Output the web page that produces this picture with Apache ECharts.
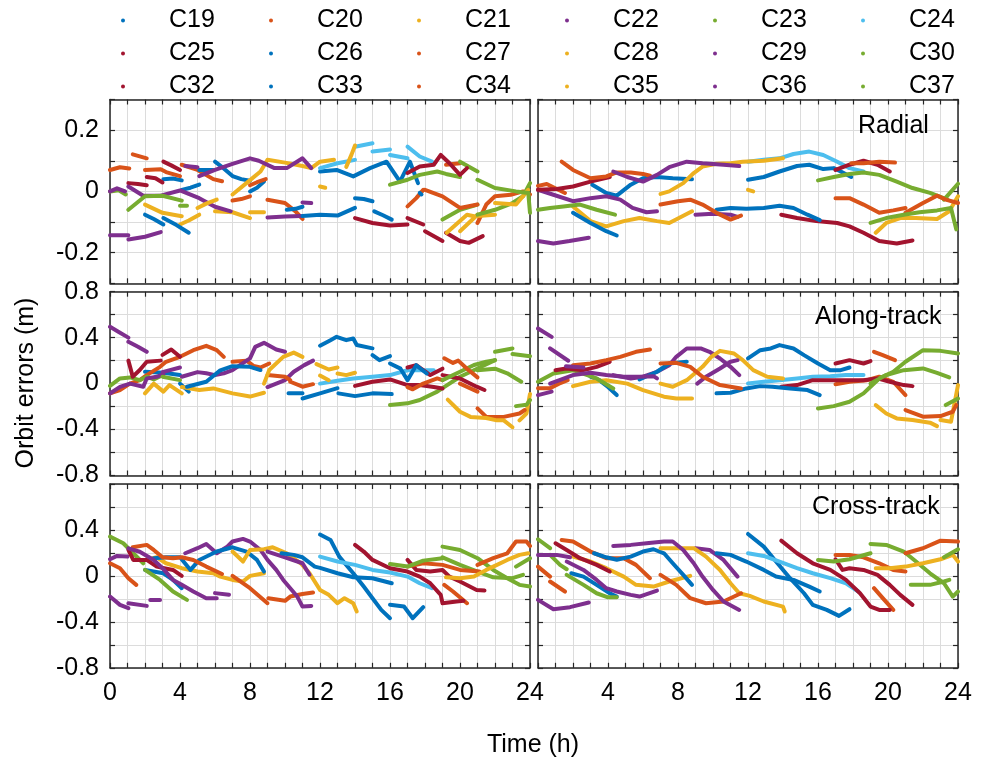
<!DOCTYPE html>
<html lang="en">
<head>
    <meta charset="UTF-8">
    <title>Orbit errors</title>
    <script src="https://cdn.jsdelivr.net/npm/echarts@6/dist/echarts.min.js"></script>
    <style>
        body { margin: 0; background: #fff; }
    </style>
</head>
<body>
    <div id="chart" style="width: 987px; height: 762px;"></div>
    <script>
    // satellites and their colours (order of the legend)
    var sats = ['C19','C20','C21','C22','C23','C24','C25','C26','C27','C28','C29','C30','C32','C33','C34','C35','C36','C37'];
    var satColors = ['#0072BD','#D95319','#EDB120','#7E2F8E','#77AC30','#4DBEEE','#A2142F',
                     '#0072BD','#D95319','#EDB120','#7E2F8E','#77AC30','#A2142F',
                     '#0072BD','#D95319','#EDB120','#7E2F8E','#77AC30'];
    var panelNames = ['Radial', 'Along-track', 'Cross-track'];
    var xTicks = [0, 4, 8, 12, 16, 20, 24];

    // arcs: [satellite, [[hour, error m], ...]]
    var radialL = [
        ['C19', [[3.05,.04],[3.6,.042],[4.1,.036]]],
        ['C19', [[4.1,.005],[4.6,.012],[5.1,.022]]],
        ['C26', [[2,-.076],[2.5,-.09],[3.05,-.108]]],
        ['C33', [[3.05,-.087],[3.8,-.11],[4.5,-.135]]],
        ['C26', [[5.1,.07],[5.9,.07]]],
        ['C33', [[6,.097],[6.5,.075],[7,.05],[7.5,.04],[8,.035]]],
        ['C19', [[8,0],[8.4,.012],[8.8,.032]]],
        ['C26', [[10.1,-.06],[10.6,-.057],[11,-.05]]],
        ['C33', [[11,-.08],[12,-.076],[13,-.079],[14,-.054]]],
        ['C19', [[12,.065],[12.95,.07],[13.9,.049],[14.86,.076],[15.8,.097],[16.57,.032],[17.14,.097],[17.6,.027]]],
        ['C26', [[14,-.022],[14.5,-.025],[15,-.032]]],
        ['C26', [[15.1,-.065],[15.6,-.078],[16.1,-.092]]],
        ['C33', [[17.7,-.005],[17.8,-.01]]],
        ['C20', [[0,.07],[.57,.079],[1.1,.075]]],
        ['C27', [[1.3,.121],[2.1,.108]]],
        ['C34', [[2,.07],[2.9,.072],[3.2,.063],[4,.05]]],
        ['C20', [[4.1,.087],[5,.07],[5.9,.04],[6.4,.033]]],
        ['C27', [[7,-.03],[7.5,-.025],[8,-.016]]],
        ['C34', [[8,.02],[8.4,.03],[8.9,.04]]],
        ['C20', [[9,-.027],[10,-.038],[10.6,-.065],[11,-.09]]],
        ['C27', [[17,-.049],[17.5,-.022],[17.9,.005]]],
        ['C34', [[18,.005],[19,-.016],[20,-.054],[21,-.043]]],
        ['C20', [[21,-.103],[21.5,-.043],[22,-.016],[22.9,-.011],[23.6,0],[24,-.01]]],
        ['C27', [[19.2,.087],[20,.092]]],
        ['C25', [[1.05,.027],[1.6,.024],[2.1,.02]]],
        ['C32', [[2.1,.047],[2.6,.043],[3,.029]]],
        ['C25', [[3.05,.097],[3.5,.085],[4,.07]]],
        ['C32', [[14,-.087],[15,-.103],[16,-.111],[17,-.108]]],
        ['C25', [[17,-.087],[17.9,-.108]]],
        ['C32', [[18,-.13],[19,-.162]]],
        ['C25', [[19.2,-.135],[20,-.162],[20.5,-.168],[21.3,-.146]]],
        ['C32', [[17,.06],[17.7,.081],[18.5,.087],[18.9,.119],[19.4,.092],[20,.054],[20.4,.076]]],
        ['C24', [[12,.076],[13,.092],[14,.103]]],
        ['C24', [[14,.146],[15,.157]]],
        ['C24', [[15,.13],[16,.137]]],
        ['C24', [[16,.119],[17,.108]]],
        ['C24', [[17,.146],[17.7,.114],[18.4,.097]]],
        ['C21', [[2,-.043],[3,-.07],[4.1,-.081]]],
        ['C28', [[4,-.108],[4.5,-.095],[5.1,-.076]]],
        ['C35', [[5,-.054],[5.5,-.04],[6.1,-.027]]],
        ['C21', [[6,-.065],[7,-.068],[8,-.087]]],
        ['C28', [[8,-.068],[8.8,-.068]]],
        ['C35', [[7,-.01],[7.9,.032],[8.6,.065],[9,.103],[10,.094],[11,.083],[11.5,.076],[12,.097],[12.8,.103]]],
        ['C21', [[12,.016],[12.3,.012]]],
        ['C28', [[13.5,.08],[13.8,.12],[14,.15]]],
        ['C35', [[19.24,-.135],[20.4,-.076],[20.8,-.081]]],
        ['C21', [[20,-.13],[21,-.076]]],
        ['C28', [[21,-.08],[22,-.076]]],
        ['C35', [[22,-.038],[23.2,-.043],[23.9,.005]]],
        ['C22', [[0,-.143],[1.05,-.143]]],
        ['C22', [[1.05,-.157],[2,-.148],[2.9,-.133]]],
        ['C29', [[0,0],[.4,.01],[.86,0]]],
        ['C29', [[1.05,.016],[1.9,-.014],[2.9,-.014],[4,.003],[5.1,-.022],[6,-.05],[6.9,-.065]]],
        ['C36', [[4.3,.083],[5,.079]]],
        ['C36', [[5.1,.05],[6,.07],[7,.09],[8,.108],[8.5,.1],[9.4,.076],[10.1,.076],[11,.108],[11.5,.076]]],
        ['C22', [[9,-.085],[10,-.082],[10.9,-.08]]],
        ['C29', [[11,-.036],[11.5,-.038]]],
        ['C23', [[0,0],[.5,.004],[.9,-.01]]],
        ['C30', [[1.05,-.06],[2,-.016],[3,-.014],[4.1,-.03]]],
        ['C37', [[4,-.047],[4.4,-.047]]],
        ['C23', [[16,.022],[17,.038],[17.7,.054],[18.7,.065],[19.2,.057],[20,.047]]],
        ['C30', [[20,.097],[21,.065]]],
        ['C37', [[21,.038],[22,.011],[23.2,0],[23.9,-.005]]],
        ['C23', [[19,-.092],[20,-.06],[21,-.043]]],
        ['C30', [[21,-.076],[22,-.06],[23,-.038],[23.6,-.016],[24,.027]]],
        ['C37', [[23.9,-.005],[24,-.07]]]
    ];

    var radialR = [
        ['C20', [[0,.018],[.5,.024],[1.54,-.005]]],
        ['C27', [[1.35,.097],[2,.07],[3,.043],[3.9,.049],[4.5,.062],[5.3,.062],[6,.057],[6.4,.051]]],
        ['C34', [[7,-.043],[8,-.032],[8.7,-.027],[9.4,-.043],[10.2,-.07],[11,-.092],[11.6,-.079]]],
        ['C20', [[17,-.022],[17.8,-.022],[18.6,-.043],[19.5,-.07],[20.3,-.062],[21,-.054]]],
        ['C27', [[17.9,.092],[18.6,.092],[19.5,.097],[20.4,.094]]],
        ['C34', [[21,-.07],[22,-.038],[22.8,-.014],[23.3,-.027],[24,-.038]]],
        ['C25', [[0,.005],[1.07,.008],[2,.016],[3,.032],[4.1,.047]]],
        ['C32', [[13.9,-.076],[14.8,-.087],[15.9,-.097],[17.1,-.103],[17.8,-.114],[18.6,-.135],[19.5,-.162],[20.5,-.17],[21.4,-.16]]],
        ['C25', [[17,.07],[17.8,.087],[18.6,.1],[19.4,.087],[20.1,.065]]],
        ['C19', [[3.1,.022],[3.9,-.005],[4.5,-.014],[5.3,.022],[6,.043],[6.8,.047],[7.7,.043],[8.8,.04]]],
        ['C26', [[2,-.07],[3,-.103],[3.9,-.13],[4.5,-.144]]],
        ['C33', [[10.2,-.06],[11,-.054],[11.9,-.057],[12.9,-.054],[13.8,-.047],[14.6,-.054],[15.4,-.076],[16.1,-.094]]],
        ['C19', [[12,.038],[12.9,.047],[13.8,.065],[14.8,.083],[15.5,.087],[16.3,.073],[16.9,.076],[17.3,.065],[17.9,.047]]],
        ['C24', [[12,.097],[12.9,.103],[13.8,.108],[14.6,.122],[15.5,.13],[16.3,.119],[17.1,.097],[17.8,.076],[18.6,.065]]],
        ['C21', [[2,-.049],[3,-.097],[3.9,-.114],[4.9,-.097],[5.8,-.087],[6.8,-.097],[7.5,-.103],[8.8,-.065]]],
        ['C28', [[7,-.008],[7.5,0],[8.3,.027],[8.9,.06],[9.4,.081],[10.2,.09],[11,.092],[11.7,.097],[12.9,.1],[14,.108]]],
        ['C35', [[12,.005],[12.3,0]]],
        ['C21', [[19.3,-.135],[19.9,-.103],[20.7,-.087],[21.6,-.087],[22.8,-.09],[23.5,-.065],[24,-.016]]],
        ['C22', [[0,.005],[.88,-.011],[2,-.032],[3,-.022],[3.9,-.016],[4.7,-.027],[5.4,-.054],[6.2,-.068],[6.8,-.065]]],
        ['C29', [[0,-.162],[.88,-.17],[1.8,-.162],[2.9,-.151]]],
        ['C36', [[4.3,.065],[5.1,.047],[6,.032],[6.8,.054],[7.5,.079],[8.5,.097],[9.4,.092],[10.6,.087],[11.5,.083]]],
        ['C22', [[9,-.076],[10,-.073],[11,-.076],[11.4,-.083]]],
        ['C23', [[0,-.06],[.69,-.054],[1.45,-.049],[2.4,-.043],[3.35,-.06],[4.4,-.076]]],
        ['C30', [[16,.036],[16.9,.047],[17.8,.057],[18.6,.062],[19.5,.054],[20.5,.032],[21.4,.011],[22.4,-.005],[23.4,-.027]]],
        ['C37', [[19,-.103],[19.9,-.087],[20.9,-.076],[21.8,-.068],[22.8,-.062],[23.6,-.054],[23.9,-.124]]],
        ['C23', [[23.2,-.027],[24,.025]]]
    ];

    var alongL = [
        ['C22', [[0,.494],[.5,.45],[1.05,.4]]],
        ['C22', [[1.05,.364],[1.6,.32],[2.1,.277]]],
        ['C29', [[0,-.086],[.57,-.028],[1.14,0],[1.9,-.028],[2.1,.045],[2.67,.059],[3.05,.082]]],
        ['C36', [[3,.1],[4,.14]]],
        ['C29', [[4.1,.06],[5,.1],[5.5,.09],[6,.074],[6.5,.09],[7,.118],[8,.219],[8.3,.32],[8.8,.355],[9.5,.297],[10,.277]]],
        ['C22', [[9,-.03],[10,.03],[10.5,.103],[11.1,.161],[11.6,.2]]],
        ['C25', [[1.05,.2],[1.3,.06],[1.7,.118],[2.1,.19],[2.9,.2]]],
        ['C32', [[3,.25],[3.5,.297],[4,.233]]],
        ['C20', [[0,-.085],[.57,-.056],[1.14,0],[1.7,.03],[2.1,.074],[2.86,.146],[3.2,.19],[4,.233],[4.76,.291],[5.5,.329],[6.1,.291],[6.5,.233]]],
        ['C27', [[7,.19],[7.8,.2],[8.2,.154],[8.6,.14],[9.1,.175]]],
        ['C34', [[9,.074],[10,.06],[10.3,.03]]],
        ['C20', [[10.3,.016],[11,-.027],[11.6,-.005]]],
        ['C19', [[2,.103],[3.05,.094],[4,.074]]],
        ['C26', [[4,0],[4.5,-.07]]],
        ['C33', [[4.4,-.027],[5.5,.016],[6.3,.116],[7,.152],[8,.146],[8.6,.118]]],
        ['C19', [[10.2,-.085],[11,-.085]]],
        ['C26', [[11,-.13],[12,-.085],[13,-.04]]],
        ['C33', [[13.05,-.085],[14,-.109],[15,-.085],[16.1,-.091]]],
        ['C19', [[12,.33],[12.6,.378],[12.95,.407],[13.5,.378],[13.9,.393],[14.1,.336],[15,.307]]],
        ['C19', [[15,.248],[15.4,.204],[16,.239]]],
        ['C33', [[16,.175],[16.6,.13],[17,.03],[17.5,.16],[18.1,.088]]],
        ['C24', [[12,0],[13,.025],[13.9,.045],[15,.06],[16,.074],[17,.116],[18.5,.116]]],
        ['C21', [[2,-.085],[2.5,0],[3.05,-.07],[3.4,-.013],[4.1,-.085]]],
        ['C28', [[4.1,-.03],[5.1,-.056],[5.9,-.042],[7,-.085],[8,-.113],[8.8,-.08]]],
        ['C35', [[8.8,0],[9.1,.118],[9.9,.233],[10.5,.27],[11,.233]]],
        ['C21', [[11.8,.17],[12.5,.123],[13,.14]]],
        ['C28', [[13,.088],[13.5,.074],[14,.094]]],
        ['C28', [[12,.07],[12.5,.03]]],
        ['C35', [[19.3,-.14],[20,-.245],[20.6,-.29],[21.5,-.3],[22.1,-.32],[22.5,-.32],[23,-.38]]],
        ['C21', [[23.4,-.32],[23.8,-.26],[24,-.09]]],
        ['C25', [[14,-.02],[15,.016],[16,.036],[17,-.013],[17.7,-.013],[18.5,-.03],[19,-.043]]],
        ['C32', [[17,.14],[17.5,.16],[18.3,.074],[19,.13]]],
        ['C25', [[19,.074],[20,.045],[20.95,-.027],[21.4,-.056]]],
        ['C27', [[17,-.03],[17.3,-.05],[17.9,0],[18.7,.045],[19,.03]]],
        ['C34', [[19.1,.22],[19.6,.18],[19.9,.2],[20.4,.13],[21,.054]]],
        ['C20', [[20,0],[21,-.07]]],
        ['C27', [[21,-.216],[21.5,-.29],[22.5,-.29],[23.4,-.26],[23.7,-.23]]],
        ['C23', [[0,-.02],[.57,.045],[1.14,.054],[1.7,.03],[2.1,.06],[2.5,.036],[3,.074]]],
        ['C30', [[3,.06],[4,.03]]],
        ['C23', [[16,-.187],[17,-.172],[17.7,-.143],[18.7,-.07],[19.2,-.02],[20,.06],[21,.132],[22,.204]]],
        ['C30', [[19,.03],[20,.103],[20.8,.162],[21.5,.19],[22,.204]]],
        ['C37', [[21,.117],[22,.13],[22.7,.09],[23.5,.016]]],
        ['C30', [[22,.277],[23,.306]]],
        ['C37', [[23,.257],[24,.239]]],
        ['C23', [[23.2,-.196],[23.8,-.185],[24,-.143]]]
    ];

    var alongR = [
        ['C22', [[0,.48],[.78,.407]]],
        ['C22', [[.69,.306],[1.73,.199]]],
        ['C29', [[0,-.1],[.78,-.07]]],
        ['C36', [[.69,0],[2,.074],[3,.094],[3.9,.074],[4.9,.06],[5.8,.06],[6.6,.065],[6.8,.045]]],
        ['C29', [[1.6,.152],[2.6,.14]]],
        ['C22', [[4.3,.074],[5.3,.045],[6,.06],[6.8,.103],[7.5,.16],[7.9,.233],[8.5,.306],[9.3,.306],[9.8,.277],[10.4,.219],[11,.146],[11.5,.074]]],
        ['C29', [[9.1,0],[9.6,.06],[10.4,.132],[11,.19],[11.4,.204]]],
        ['C25', [[1,.117],[1.6,.132],[2.6,.117],[3.35,.146],[4.1,.19]]],
        ['C32', [[13.9,-.028],[14.8,-.013],[15.7,.03],[16.7,.03],[17.6,.03],[18.6,.03],[19.4,.045],[20.1,.016],[20.9,-.013],[21.4,-.022]]],
        ['C25', [[17,.175],[17.8,.204],[18.6,.175],[19,.196]]],
        ['C20', [[0,-.04],[.69,-.04],[1.2,0],[1.7,.03]]],
        ['C27', [[2,.16],[3,.175],[3.9,.204],[4.7,.233],[5.6,.277],[6.4,.297]]],
        ['C34', [[7,.175],[7.9,.181],[8.7,.146],[9.4,.06],[10.4,-.013],[11.6,-.042]]],
        ['C20', [[17,-.005],[17.8,.016],[18.8,.03],[19.5,.06],[20.3,.016],[21,-.1]]],
        ['C27', [[19.2,.277],[19.7,.248],[20.4,.204]]],
        ['C34', [[21,-.23],[22,-.288],[23,-.283],[23.7,-.245],[23.9,-.187]]],
        ['C19', [[3,.06],[3.5,.03],[4,-.03],[4.5,-.1]]],
        ['C26', [[5.8,.036],[6.8,.103],[7.5,.175],[8.5,.19]]],
        ['C33', [[10.2,-.085],[11,-.08],[11.9,-.042],[12.7,-.022],[13.4,-.028],[14.4,-.042],[15.4,-.056],[16.1,-.1]]],
        ['C19', [[12,.219],[12.7,.291],[13.3,.306],[13.8,.335],[14.6,.306],[15.2,.248],[16,.175],[16.7,.117],[17.3,.117],[17.8,.14]]],
        ['C24', [[12,0],[12.9,.016],[13.8,.03],[14.8,.045],[15.7,.06],[16.7,.065],[17.6,.074],[18.6,.074]]],
        ['C21', [[2,-.022],[3,.016],[3.9,.03],[5.1,0],[6,-.056],[7.2,-.114],[7.9,-.129],[8.8,-.129]]],
        ['C28', [[7,0],[7.7,-.027],[8.5,.03],[9.4,.146],[9.9,.233],[10.4,.285],[11.2,.262],[11.7,.204],[12.3,.117],[13.1,.06],[14,.045]]],
        ['C35', [[19.3,-.187],[19.9,-.26],[20.5,-.303],[21.4,-.317],[22.4,-.34],[22.8,-.37]]],
        ['C21', [[23,-.317],[23.6,-.332],[24,-.013]]],
        ['C23', [[0,.016],[.88,.088],[2,.117],[3.35,.045],[4.3,-.042]]],
        ['C30', [[16,-.216],[16.9,-.196],[17.8,-.158],[18.6,-.085],[19,-.027],[19.5,.045],[20.3,.103],[21,.19],[22,.291],[23,.285],[24,.262]]],
        ['C37', [[19,0],[19.9,.074],[20.9,.117],[22,.132],[22.8,.094],[23.5,.054]]],
        ['C23', [[23.3,-.187],[24,-.13]]]
    ];

    var crossL = [
        ['C23', [[0,.342],[.76,.284],[1.33,.197],[1.9,.11]]],
        ['C30', [[2,.052],[2.86,-.035],[3.6,-.136],[4.4,-.209]]],
        ['C20', [[0,.11],[.57,.067],[1.05,-.02],[1.5,-.078]]],
        ['C27', [[1.3,.249],[2.1,.27],[2.5,.226],[3,.162],[3.6,.154],[4.1,.162],[4.76,.139],[5.5,.081],[6.4,.017]]],
        ['C34', [[7,0],[8,-.107],[9,-.238]]],
        ['C20', [[9.05,-.194],[10,-.217],[10.3,-.18],[11,-.157],[11.6,-.145]]],
        ['C22', [[0,.145],[.4,.174],[1,.168]]],
        ['C29', [[1.05,.24],[1.7,.21],[2.5,.139],[3,.067],[3.6,-.035],[4.1,-.078],[4.76,-.136],[5.5,-.194],[6.1,-.194]]],
        ['C36', [[0,-.18],[.57,-.252],[1.05,-.281]]],
        ['C36', [[1.05,-.238],[2.1,-.261]]],
        ['C36', [[2.3,-.209],[2.86,-.209]]],
        ['C22', [[6,-.15],[6.8,-.165]]],
        ['C22', [[4.3,.197],[5,.241],[5.5,.278],[6.1,.197],[6.7,.255],[7,.299],[7.6,.322],[8,.299],[8.6,.226],[9,.139],[9.5,.052],[9.9,-.035],[10.3,-.107],[10.7,-.18],[11,-.267],[11.5,-.261]]],
        ['C29', [[9,.212],[10,.162],[11,.11],[11.4,.01]]],
        ['C25', [[1.05,.226],[1.33,.139],[2.1,.139],[2.67,.081],[3.6,.052],[4.1,0]]],
        ['C19', [[2,.052],[3.05,.023],[3.6,-.035],[4.1,-.107]]],
        ['C26', [[2.5,.154],[3.2,.162],[4,.162],[4.6,.052],[5.1,.139],[6.1,.212],[7,.249],[7.8,.212],[8.4,.139],[8.8,.038]]],
        ['C33', [[9.8,.197],[10.5,.183],[11,.162],[11.7,.081],[12,.07],[13,.023],[13.9,-.012],[15,-.02],[16.1,-.064]]],
        ['C19', [[12,.36],[12.6,.313],[13.1,.168],[13.9,.023],[14.5,-.093],[15,-.194],[15.5,-.296],[16,-.368]]],
        ['C26', [[16,-.252],[16.8,-.267],[17.3,-.368],[17.9,-.272]]],
        ['C21', [[2,.139],[2.67,.162],[3.2,.11],[4.1,.067],[5,.038],[5.9,.023],[6.3,-.006],[7,-.035],[7.6,-.049],[8,0],[8.8,.023]]],
        ['C28', [[7,.212],[7.6,.125],[8,.226],[8.8,.232],[9.3,.249],[10.1,.197],[10.9,.11],[11.4,.023],[12,-.122],[12.5,-.165],[13,-.238],[13.4,-.194],[13.9,-.238],[14.1,-.31]]],
        ['C35', [[19.2,-.012],[20,-.02],[20.8,-.006],[21.5,.052],[21.9,.081],[22.7,.139],[23.4,.183],[23.9,.197]]],
        ['C24', [[12,.168],[13,.125],[14,.096],[15,.052],[16,.029],[17,-.006],[17.7,-.064],[18.4,-.107]]],
        ['C32', [[14,.27],[14.5,.212],[15,.139],[16,.067],[17,.038],[17.7,-.006],[18.3,-.064],[18.9,-.165],[19,-.238],[19.8,-.223],[20.2,-.217]]],
        ['C25', [[17,.139],[17.5,.052],[18.3,.038],[19,.052],[19.4,-.006],[20,-.049],[20.95,-.122],[21.4,-.128]]],
        ['C34', [[17,.081],[17.9,.11],[19,.096],[20,.052],[21.1,.038]]],
        ['C20', [[19.1,-.078],[19.6,-.136],[20.4,-.238]]],
        ['C27', [[21,.096],[21.9,.154],[22.7,.197],[23.2,.299],[23.8,.299],[24,.26]]],
        ['C37', [[16,.104],[17,.081],[17.9,.133],[19,.154]]],
        ['C23', [[19,.255],[20,.226],[21,.154],[21.9,.052],[22.7,-.02],[23.4,-.078],[24,-.093]]],
        ['C30', [[19,.162],[20,.096],[21,.038],[21.9,-.012],[23,-.02],[23.6,.009]]],
        ['C37', [[23.2,.081],[24,.154]]]
    ];

    var crossR = [
        ['C23', [[0,.319],[.69,.241]]],
        ['C23', [[.69,.183],[1.26,.096],[1.64,.058]]],
        ['C30', [[1.64,.009],[2.6,-.078],[3.35,-.151],[4,-.186],[4.5,-.186]]],
        ['C37', [[16,.139],[16.9,.125],[17.8,.145],[19,.197]]],
        ['C30', [[19,.278],[19.9,.27],[20.9,.212],[21.6,.125],[22.4,.023],[23.2,-.064],[23.7,-.18],[24,-.136]]],
        ['C23', [[21.3,-.078],[22.4,-.078],[23.2,-.049],[23.5,-.035]]],
        ['C37', [[23.2,.162],[24,.232]]],
        ['C22', [[0,-.209],[.88,-.29],[1.83,-.272],[2.9,-.232]]],
        ['C29', [[0,.183],[1.07,.183],[1.83,.162]]],
        ['C29', [[1.64,.125],[2.6,.052],[3.35,-.035],[3.9,-.107],[4.5,-.136],[5.3,-.165],[5.8,-.18],[6.8,-.128]]],
        ['C36', [[4.3,.261],[5.3,.27],[6.2,.284],[7.2,.299],[7.7,.299],[8.3,.226],[8.9,.11],[9.4,-.006],[10,-.122],[10.6,-.223],[11.5,-.296]]],
        ['C22', [[9,.241],[9.8,.226],[10.6,.139],[11.4,-.006]]],
        ['C25', [[1,.284],[1.64,.226],[2.4,.154],[3.35,.096],[4.1,.038]]],
        ['C32', [[13.9,.307],[14.8,.197],[15.7,.11],[16.7,.052],[17.6,-.035],[18.4,-.151],[19,-.267],[19.5,-.296],[20.1,-.296]]],
        ['C25', [[17,.145],[17.4,.052],[17.8,.067],[18.6,.052],[19.4,.009],[20.1,-.078],[20.7,-.165],[21.4,-.252]]],
        ['C20', [[1.35,.313],[2,.299],[3,.212],[3.9,.154],[4.9,.154],[5.6,.096],[6.4,-.02]]],
        ['C27', [[0,.081],[.69,-.006]]],
        ['C27', [[.69,-.049],[1.54,-.136]]],
        ['C34', [[7,.009],[7.9,-.078],[8.7,-.194],[9.6,-.238],[10.6,-.223],[11.6,-.151]]],
        ['C20', [[17,.183],[17.8,.183],[18.6,.162],[19.5,.11],[20.3,.052],[21,.038]]],
        ['C27', [[19.2,-.107],[19.7,-.194],[20.3,-.296]]],
        ['C34', [[21,.197],[22,.241],[23,.307],[24,.299]]],
        ['C19', [[1.9,.023],[2.6,-.006],[3.35,-.078],[4.1,-.151],[4.5,-.18]]],
        ['C26', [[3.2,.197],[3.9,.162],[4.5,.14],[5.3,.168],[6,.212],[6.6,.232],[7.2,.197],[7.7,.11],[8.3,.009],[8.8,-.078]]],
        ['C33', [[10.2,.197],[11,.183],[11.9,.125],[12.9,.052],[13.6,-.006],[14.6,-.035],[15.5,-.093],[16.1,-.136]]],
        ['C19', [[12,.365],[12.9,.255],[13.6,.125],[14.4,-.02],[15.2,-.151],[15.7,-.252],[16.5,-.296],[17.2,-.348],[17.8,-.29]]],
        ['C24', [[12,.197],[12.9,.174],[13.8,.125],[14.8,.067],[15.7,.023],[16.7,-.02],[17.6,-.064],[18.3,-.136]]],
        ['C21', [[2,.168],[3,.125],[3.9,.067],[4.9,-.006],[5.6,-.078],[6.6,-.093],[7.5,-.049],[8.7,0]]],
        ['C28', [[7,.241],[7.9,.241],[8.9,.241],[9.6,.168],[10.4,.052],[11,-.064],[11.5,-.151],[12.1,-.174],[12.9,-.223],[14,-.267],[14.1,-.31]]],
        ['C35', [[19.3,.067],[20.1,.067],[21,.081],[22,.11],[23,.145],[23.7,.183],[24,.125]]]
    ];

    var panels = [radialL, radialR, alongL, alongR, crossL, crossR];

    var myChart = echarts.init(document.getElementById('chart'));
    var font = '"Liberation Sans", Arial, Helvetica, sans-serif';
    var axisColor = '#262626';

    // grid boxes
    var colLeft = [110, 538];
    var rowTop = [99.5, 291.7, 484];
    var boxW = 420, boxH = 183.8;

    function round1(v) { return Math.round(v * 10) / 10; }

    var grids = [], xAxes = [], yAxes = [], series = [];
    for (var g = 0; g < 6; g++) {
        var r = Math.floor(g / 2), c = g % 2;
        grids.push({ left: colLeft[c], top: rowTop[r], width: boxW, height: boxH });

        var xa = {
            gridIndex: g, type: 'value', min: 0, max: 24, interval: 1,
            axisLine: { show: true, onZero: false, lineStyle: { color: axisColor, width: 1.5 } },
            axisTick: { show: true, inside: true, length: 5, lineStyle: { color: axisColor, width: 1.2 } },
            splitLine: { show: false },
            axisLabel: { show: false }
        };
        var xb = echarts.util.merge({ position: 'bottom' }, xa);
        xb.splitLine = { show: true, lineStyle: { color: '#dcdcdc', width: 1 } };
        if (r === 2) {
            xb.axisLabel = {
                show: true, fontSize: 25, fontFamily: font, color: '#000', margin: 13,
                showMinLabel: true, showMaxLabel: true,
                formatter: (function (col) {
                    return function (v) {
                        v = Math.round(v);
                        if (xTicks.indexOf(v) < 0) return '';
                        if (col === 1 && v === 0) return '';
                        return String(v);
                    };
                })(c)
            };
        }
        var xt = echarts.util.merge({ position: 'top' }, xa);
        xAxes.push(xb, xt);

        var ymin = r === 0 ? -0.3 : -0.8, ymax = -ymin, yint = r === 0 ? 0.1 : 0.2;
        var ya = {
            gridIndex: g, type: 'value', min: ymin, max: ymax, interval: yint,
            axisLine: { show: true, onZero: false, lineStyle: { color: axisColor, width: 1.5 } },
            axisTick: { show: true, inside: true, length: 5, lineStyle: { color: axisColor, width: 1.2 } },
            splitLine: { show: false },
            axisLabel: { show: false }
        };
        var yl = echarts.util.merge({ position: 'left' }, ya);
        yl.splitLine = { show: true, lineStyle: { color: '#dcdcdc', width: 1 } };
        if (c === 0) {
            yl.axisLabel = {
                show: true, fontSize: 25, fontFamily: font, color: '#000', margin: 11,
                showMinLabel: true, showMaxLabel: true,
                formatter: (function (row) {
                    return function (v) {
                        var t = round1(v);
                        if (row === 0) return Math.abs(t) < 0.25 && Math.round(t * 10) % 2 === 0 ? String(t) : '';
                        if (Math.round(t * 10) % 4 !== 0) return '';
                        if (row === 2 && t > 0.7) return '';
                        return String(t);
                    };
                })(r)
            };
        }
        var yr = echarts.util.merge({ position: 'right' }, ya);
        yAxes.push(yl, yr);

        // one series per satellite and panel, arcs separated by gaps
        sats.forEach(function (s, k) {
            var data = [];
            panels[g].forEach(function (arc) {
                if (arc[0] !== s) return;
                if (data.length) data.push(['-', '-']);
                arc[1].forEach(function (p) { data.push(p); });
            });
            series.push({
                name: s,
                type: 'line',
                xAxisIndex: 2 * g,
                yAxisIndex: 2 * g,
                data: data,
                showSymbol: false,
                symbol: 'circle',
                connectNulls: false,
                itemStyle: { color: satColors[k] },
                lineStyle: { color: satColors[k], width: 4, cap: 'round', join: 'round' },
                emphasis: { disabled: true },
                z: 3
            });
        });
    }

    // legend: six columns of three entries
    var legendX = [121, 269, 417, 565, 713, 861];
    var legends = legendX.map(function (lx, k) {
        return {
            orient: 'vertical',
            left: lx,
            top: 8,
            padding: 0,
            itemGap: 8,
            itemWidth: 10,
            itemHeight: 4,
            icon: 'circle',
            selectedMode: false,
            data: [sats[k], sats[k + 6], sats[k + 12]],
            textStyle: { fontSize: 25, lineHeight: 24, fontFamily: font, color: '#000', padding: [0, 0, 0, 36] }
        };
    });

    var labelPos = [[858, 126], [815, 317], [812, 507]];
    var graphics = panelNames.map(function (name, i) {
        return {
            type: 'text', x: labelPos[i][0], y: labelPos[i][1],
            style: { text: name, fontSize: 25, fontFamily: font, fill: '#000', align: 'left', verticalAlign: 'middle' },
            z: 10
        };
    });
    graphics.push({
        type: 'text', x: 26, y: 383, rotation: Math.PI / 2,
        style: { text: 'Orbit errors (m)', fontSize: 25, fontFamily: font, fill: '#000', align: 'center', verticalAlign: 'middle' }
    });
    graphics.push({
        type: 'text', x: 533, y: 745,
        style: { text: 'Time (h)', fontSize: 25, fontFamily: font, fill: '#000', align: 'center', verticalAlign: 'middle' }
    });

    myChart.setOption({
        animation: false,
        backgroundColor: '#fff',
        legend: legends,
        grid: grids,
        xAxis: xAxes,
        yAxis: yAxes,
        series: series,
        graphic: graphics
    });
    </script>
</body>
</html>
